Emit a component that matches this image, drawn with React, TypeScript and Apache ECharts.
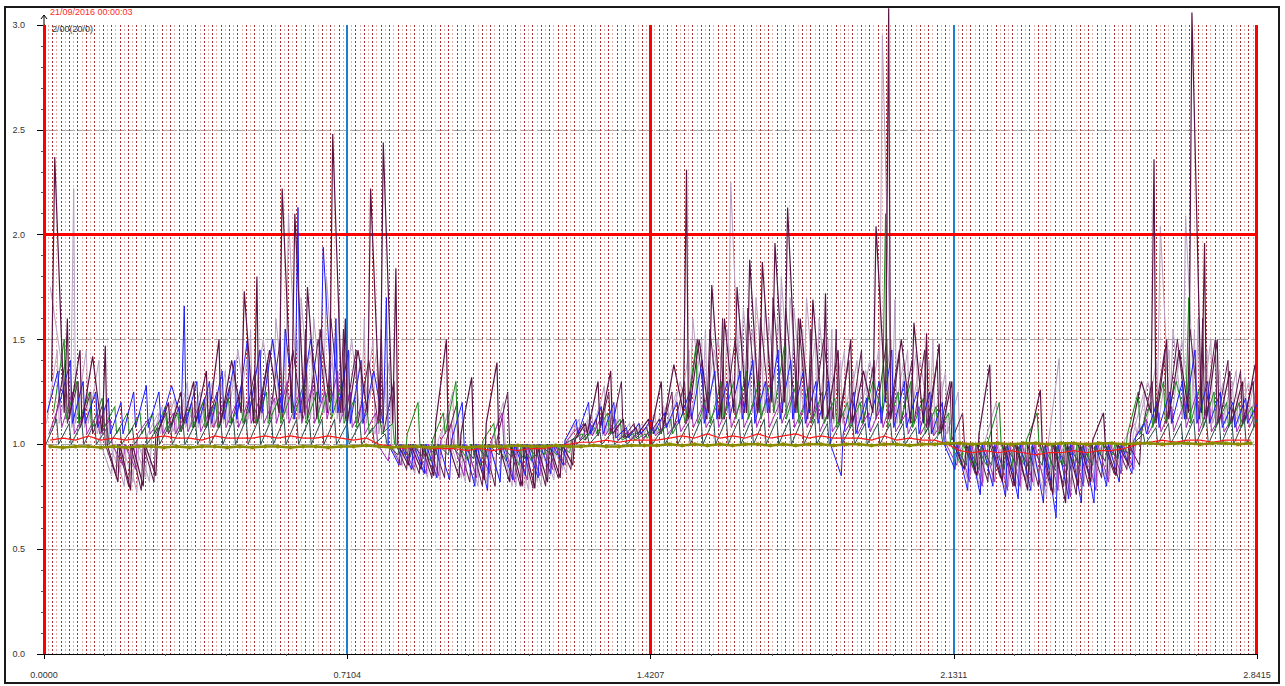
import React, { useEffect, useRef } from "react";
import * as echarts from "echarts";

// ---- axis values ----
const X_MAX = 2.8415;
const X_INTERVAL = 0.710375;
const xTickLabels = ["0.0000", "0.7104", "1.4207", "2.1311", "2.8415"];
const yTickLabels = ["0.0", "0.5", "1.0", "1.5", "2.0", "2.5", "3.0"];
const redXMarks = [0, 1.4207, 2.8415];
const blueXMarks = [0.7104, 2.1311];
const redYMarks = [2.0];
const DOT_GRID_COUNT = 288;

// ---- series: each tooth = [start, end] ----
const N_TEETH = 96;
const plum = [
  1.3,2.37, 1.15,1.6, 1.12,1.45, 1.1,1.42, 1.05,1.47, 1,0.82, 1,0.78, 1,0.8,
  1,0.85, 1.05,1.2, 1.08,1.25, 1.1,1.3, 1.1,1.35, 1.1,1.5, 1.1,1.4, 1.15,1.73,
  1.1,1.8, 1.12,1.45, 1.15,2.22, 1.15,2.1, 1.15,1.75, 1.12,1.55, 1.2,2.48, 1.15,1.6,
  1.1,1.45, 1.15,2.22, 1.1,2.44, 1.1,1.84, 1,0.9, 1,0.88, 1,0.85, 1.1,1.5,
  1,0.84, 1.05,1.32, 1,0.83, 1.1,1.39, 1,0.82, 1,0.8, 1,0.79, 1,0.82,
  1,0.84, 1,0.9, 1.02,1.1, 1.05,1.3, 1.08,1.35, 1.05,1.12, 1.03,1.08, 1.05,1.12,
  1.05,1.3, 1.08,1.38, 1.15,2.31, 1.12,1.5, 1.15,1.76, 1.12,1.6, 1.15,1.75, 1.15,1.88,
  1.15,1.87, 1.2,1.96, 1.2,2.13, 1.15,1.6, 1.15,1.69, 1.12,1.72, 1.12,1.45, 1.1,1.5,
  1.1,1.35, 1.15,2.04, 1.2,3.08, 1.12,1.5, 1.1,1.58, 1.1,1.53, 1.08,1.48, 1.05,1.3,
  1,0.88, 1,0.85, 1.05,1.38, 1,0.82, 1,0.8, 1,0.78, 1.02,1.26, 1,0.76,
  1,0.72, 1,0.8, 1,0.82, 1.02,1.15, 1,0.85, 1,0.9, 1.05,1.3, 1.15,2.36,
  1.1,1.5, 1.12,1.45, 1.15,3.06, 1.15,1.96, 1.12,1.5, 1.1,1.35, 1.1,1.3, 1.1,1.38,
];
const plum2 = [
  1.1,1.4, 1.1,1.3, 1.08,1.25, 1.05,1.2, 1,0.85, 1,0.8, 1,0.78, 1,0.82,
  1.05,1.15, 1.05,1.18, 1.06,1.2, 1.08,1.22, 1.08,1.25, 1.08,1.28, 1.1,1.3, 1.1,1.35,
  1.1,1.4, 1.12,1.5, 1.12,1.45, 1.12,1.55, 1.12,1.5, 1.15,1.6, 1.15,1.55, 1.12,1.45,
  1.1,1.4, 1.1,1.55, 1.05,1.3, 1,0.88, 1,0.86, 1,0.84, 1,0.84, 1.02,1.2,
  1,0.82, 1,0.8, 1,0.8, 1.02,1.25, 1,0.8, 1,0.79, 1,0.8, 1,0.84,
  1,0.88, 1.02,1.1, 1.02,1.12, 1.04,1.25, 1.05,1.3, 1.03,1.1, 1.03,1.08, 1.04,1.12,
  1.05,1.25, 1.08,1.3, 1.1,1.5, 1.12,1.55, 1.12,1.6, 1.12,1.5, 1.15,1.65, 1.15,1.6,
  1.15,1.7, 1.15,1.65, 1.15,1.6, 1.12,1.55, 1.12,1.5, 1.12,1.55, 1.1,1.4, 1.1,1.45,
  1.1,1.4, 1.12,1.5, 1.12,1.45, 1.1,1.4, 1.1,1.45, 1.08,1.4, 1.05,1.3, 1.02,1.15,
  1,0.86, 1,0.82, 1,0.84, 1,0.8, 1,0.82, 1,0.8, 1,0.78, 1,0.8,
  1,0.76, 1,0.8, 1,0.84, 1,0.86, 1,0.88, 1,0.9, 1.05,1.3, 1.1,1.45,
  1.1,1.5, 1.12,1.55, 1.12,1.6, 1.12,1.5, 1.1,1.4, 1.1,1.35, 1.1,1.3, 1.1,1.35,
];
const mauve = [
  1.75,1.4, 1.15,2.22, 1.1,1.45, 1.1,1.4, 1,0.85, 1,0.8, 1,0.77, 1,0.82,
  1.02,1.18, 1.05,1.22, 1.05,1.3, 1.08,1.25, 1.1,1.3, 1.08,1.35, 1.1,1.45, 1.1,1.55,
  1.12,1.5, 1.12,1.6, 1.15,2.1, 1.12,1.7, 1.12,1.6, 1.15,1.8, 1.15,1.7, 1.12,1.5,
  1.1,1.6, 1.1,1.45, 1.05,1.4, 1,0.9, 1,0.86, 1,0.84, 1,0.83, 1.05,1.25,
  1,0.82, 1,0.8, 1,0.83, 1.02,1.2, 1,0.8, 1,0.78, 1,0.8, 1,0.83,
  1,0.86, 1.02,1.12, 1.02,1.15, 1.05,1.28, 1.05,1.2, 1.03,1.1, 1.03,1.1, 1.05,1.15,
  1.05,1.2, 1.08,1.3, 1.1,1.6, 1.12,1.55, 1.12,1.5, 1.15,2.25, 1.15,1.65, 1.15,1.7,
  1.15,1.6, 1.15,1.8, 1.15,1.65, 1.15,1.7, 1.12,1.6, 1.12,1.55, 1.1,1.45, 1.1,1.4,
  1.1,1.4, 1.15,2.95, 1.12,1.69, 1.1,1.45, 1.1,1.4, 1.08,1.5, 1.05,1.35, 1.05,1.25,
  1,0.86, 1,0.82, 1.02,1.2, 1,0.8, 1,0.78, 1,0.8, 1,0.75, 1.02,1.41,
  1,0.8, 1,0.82, 1,0.8, 1,0.85, 1,0.88, 1.02,1.1, 1.05,1.3, 1.12,2.04,
  1.12,1.55, 1.12,2.09, 1.12,1.6, 1.1,1.5, 1.1,1.3, 1.1,1.35, 1.1,1.3, 1.12,1.43,
];
const mauve2 = [
  1.1,1.45, 1.1,1.35, 1.08,1.3, 1.08,1.25, 1.05,1.2, 1,0.86, 1,0.82, 1,0.84,
  1.05,1.15, 1.05,1.2, 1.06,1.22, 1.08,1.2, 1.08,1.25, 1.08,1.3, 1.1,1.35, 1.1,1.4,
  1.12,1.45, 1.12,1.5, 1.12,1.55, 1.12,1.5, 1.12,1.45, 1.15,1.55, 1.15,1.5, 1.12,1.45,
  1.1,1.4, 1.1,1.5, 1.05,1.3, 1,0.92, 1,0.88, 1,0.86, 1,0.84, 1.02,1.15,
  1,0.84, 1,0.82, 1,0.82, 1,0.84, 1,0.8, 1,0.79, 1,0.82, 1,0.85,
  1,0.88, 1.02,1.1, 1.03,1.12, 1.04,1.2, 1.04,1.15, 1.03,1.08, 1.03,1.1, 1.04,1.12,
  1.05,1.18, 1.08,1.25, 1.1,1.45, 1.12,1.5, 1.12,1.45, 1.12,1.55, 1.15,1.6, 1.15,1.55,
  1.15,1.65, 1.15,1.6, 1.15,1.7, 1.12,1.55, 1.12,1.5, 1.12,1.5, 1.1,1.4, 1.1,1.35,
  1.1,1.35, 1.12,1.45, 1.12,1.5, 1.1,1.4, 1.1,1.45, 1.08,1.4, 1.05,1.3, 1.02,1.15,
  1,0.84, 1,0.8, 1,0.82, 1,0.78, 1,0.8, 1,0.82, 1,0.78, 1,0.76,
  1,0.78, 1,0.8, 1,0.82, 1,0.84, 1,0.86, 1,0.9, 1.05,1.25, 1.08,1.4,
  1.1,1.45, 1.1,1.5, 1.12,1.55, 1.1,1.45, 1.1,1.35, 1.1,1.3, 1.1,1.32, 1.12,1.38,
];
const blue = [
  1.15,1.35, 1.2,1.4, 1.1,1.3, 1.1,1.25, 1.08,1.22, 1.05,1.2, 1.05,1.25, 1.08,1.28,
  1.08,1.25, 1.1,1.28, 1.12,1.66, 1.1,1.3, 1.1,1.3, 1.1,1.35, 1.12,1.4, 1.12,1.5,
  1.15,1.45, 1.15,1.5, 1.15,1.55, 1.12,2.13, 1.15,1.5, 1.2,1.94, 1.15,1.6, 1.15,1.45,
  1.1,1.4, 1.1,1.35, 1.1,1.7, 1,0.9, 1,0.88, 1,0.86, 1,0.84, 1,0.83,
  1.02,1.2, 1,0.8, 1,0.78, 1,0.82, 1,0.83, 1,0.85, 1,0.84, 1,0.86,
  1,0.9, 1.02,1.12, 1.05,1.2, 1.05,1.18, 1.05,1.2, 1.03,1.08, 1.03,1.1, 1.05,1.12,
  1.05,1.15, 1.08,1.2, 1.1,1.25, 1.12,1.4, 1.1,1.35, 1.12,1.3, 1.12,1.35, 1.12,1.4,
  1.1,1.3, 1.15,1.45, 1.12,1.4, 1.12,1.35, 1.1,1.3, 1.1,1.3, 1,0.85, 1.05,1.25,
  1.05,1.22, 1.08,1.3, 1.1,1.45, 1.08,1.3, 1.08,1.25, 1.05,1.25, 1.05,1.2, 1,0.88,
  1,0.78, 1,0.76, 1,0.8, 1,0.75, 1,0.74, 1,0.78, 1,0.72, 1,0.65,
  1,0.74, 1,0.72, 1,0.72, 1,0.8, 1,0.82, 1,0.86, 1.02,1.1, 1.05,1.2,
  1.08,1.25, 1.1,1.3, 1.12,1.45, 1.1,1.3, 1.1,1.25, 1.08,1.2, 1.08,1.22, 1.1,1.2,
];
const green = [
  1.15,1.5, 1.12,1.3, 1.1,1.25, 1.08,1.22, 1.08,1.18, 1.05,1.15, 1.05,1.15, 1.05,1.15,
  1.05,1.18, 1.06,1.15, 1.06,1.18, 1.08,1.2, 1.08,1.2, 1.08,1.22, 1.1,1.2, 1.1,1.22,
  1.1,1.25, 1.1,1.22, 1.1,1.25, 1.12,1.3, 1.1,1.25, 1.1,1.28, 1.12,1.3, 1.1,1.22,
  1.08,1.15, 1.05,1.12, 1.05,1.1, 1,0.95, 1.05,1.2, 1,0.92, 1.02,1.15, 1.05,1.3,
  1,0.92, 1,0.9, 1.02,1.1, 1,0.92, 1,0.9, 1,0.92, 1,0.95, 1,0.95,
  1,0.96, 1.02,1.05, 1.02,1.08, 1.05,1.15, 1.05,1.12, 1.02,1.05, 1.02,1.05, 1.03,1.08,
  1.05,1.12, 1.05,1.15, 1.1,1.47, 1.1,1.25, 1.1,1.3, 1.12,1.3, 1.12,1.35, 1.12,1.3,
  1.12,1.32, 1.15,1.47, 1.12,1.3, 1.1,1.28, 1.1,1.25, 1.1,1.22, 1.08,1.2, 1.08,1.2,
  1.1,1.3, 1.15,2.1, 1.08,1.25, 1.1,1.3, 1.08,1.22, 1.05,1.18, 1.05,1.15, 1,0.9,
  1,0.88, 1,0.9, 1.02,1.2, 1,0.88, 1,0.9, 1.02,1.15, 1,0.88, 1,0.9,
  1,0.9, 1,0.92, 1,0.95, 1,0.95, 1,0.96, 1.05,1.25, 1.05,1.2, 1.08,1.3,
  1.1,1.3, 1.12,1.7, 1.1,1.3, 1.08,1.25, 1.08,1.2, 1.08,1.2, 1.08,1.18, 1.08,1.2,
];
const magenta = [
  1.05,1.2, 1.08,1.25, 1.05,1.15, 1.05,1.15, 1.05,1.12, 1,0.9, 1,0.88, 1.05,1.12,
  1.05,1.12, 1.05,1.15, 1.05,1.15, 1.06,1.18, 1.06,1.18, 1.08,1.2, 1.08,1.2, 1.08,1.22,
  1.1,1.25, 1.1,1.22, 1.1,1.3, 1.1,1.25, 1.1,1.28, 1.1,1.25, 1.12,1.35, 1.1,1.25,
  1.08,1.2, 1.05,1.15, 1,0.92, 1,0.9, 1,0.88, 1,0.86, 1,0.85, 1.02,1.1,
  1,0.85, 1,0.84, 1,0.86, 1.02,1.15, 1,0.82, 1,0.83, 1,0.85, 1,0.88,
  1,0.9, 1.02,1.08, 1.02,1.1, 1.04,1.15, 1.04,1.12, 1.02,1.06, 1.02,1.06, 1.03,1.08,
  1.04,1.1, 1.05,1.12, 1.06,1.15, 1.08,1.2, 1.08,1.18, 1.08,1.2, 1.08,1.22, 1.08,1.2,
  1.08,1.22, 1.08,1.2, 1.1,1.25, 1.08,1.2, 1.08,1.2, 1.06,1.18, 1.06,1.15, 1.06,1.15,
  1.05,1.15, 1.06,1.18, 1.08,1.25, 1.06,1.15, 1.05,1.18, 1.05,1.15, 1.04,1.12, 1,0.9,
  1,0.82, 1,0.8, 1,0.82, 1,0.78, 1,0.8, 1,0.82, 1,0.8, 1,0.78,
  1,0.75, 1,0.8, 1,0.78, 1,0.82, 1,0.86, 1,0.88, 1.04,1.12, 1.05,1.15,
  1.06,1.18, 1.06,1.2, 1.08,1.25, 1.06,1.2, 1.06,1.15, 1.06,1.15, 1.06,1.18, 1.08,1.2,
];
const teal = [
  1,1.12, 1,1.1, 1,1.1, 1,1.1, 1,1.08, 1,1.08, 1,1.08, 1,1.08,
  1,1.08, 1,1.1, 1,1.1, 1,1.1, 1,1.1, 1,1.1, 1,1.12, 1,1.12,
  1,1.12, 1,1.12, 1,1.12, 1,1.12, 1,1.12, 1,1.12, 1,1.12, 1,1.1,
  1,1.1, 1,1.08, 1,1.05, 1,0.95, 1,0.94, 1,0.94, 1,0.95, 1,0.95,
  1,0.94, 1,0.93, 1,0.94, 1,0.95, 1,0.94, 1,0.93, 1,0.94, 1,0.96,
  1,0.97, 1,1.03, 1,1.05, 1,1.06, 1,1.06, 1,1.05, 1,1.06, 1,1.07,
  1,1.08, 1,1.1, 1,1.1, 1,1.12, 1,1.12, 1,1.12, 1,1.12, 1,1.12,
  1,1.12, 1,1.12, 1,1.12, 1,1.12, 1,1.12, 1,1.1, 1,1.1, 1,1.1,
  1,1.1, 1,1.1, 1,1.1, 1,1.1, 1,1.08, 1,1.08, 1,1.06, 1,1.0,
  0.99,0.9, 0.99,0.88, 0.99,0.9, 0.99,0.88, 0.99,0.9, 0.99,0.88, 0.99,0.9, 0.99,0.88,
  0.99,0.88, 0.99,0.9, 0.99,0.9, 0.99,0.92, 0.99,0.93, 0.99,0.95, 1,1.05, 1,1.08,
  1,1.1, 1,1.1, 1,1.12, 1,1.12, 1,1.12, 1,1.12, 1,1.12, 1,1.12,
];
// ---- series: one value per step ----
const redLine = [
  1.02,1.03,1.02,1.04,1.02,1.03,1.02,1.03,1.03,1.04,1.03,1.03,1.02,1.04,1.03,1.03,
  1.03,1.04,1.03,1.04,1.03,1.03,1.04,1.03,1.02,1.03,1.0,0.99,0.98,0.99,0.98,0.98,
  0.98,0.97,0.98,0.97,0.98,0.97,0.98,0.98,0.99,1.0,1.01,1.01,1.02,1.01,1.02,1.02,
  1.02,1.03,1.04,1.03,1.05,1.03,1.04,1.03,1.05,1.03,1.04,1.05,1.03,1.04,1.03,1.03,
  1.03,1.02,1.04,1.02,1.03,1.02,1.02,1.0,0.97,0.96,0.97,0.96,0.97,0.96,0.95,0.96,
  0.96,0.97,0.96,0.97,0.97,0.98,1.0,1.01,1.02,1.01,1.02,1.02,1.01,1.02,1.02,1.02,
];
const oliveLine = [
  0.99,0.985,0.99,0.99,0.985,0.99,0.985,0.99,0.99,0.985,0.99,0.985,0.99,0.99,0.985,0.99,
  0.985,0.99,0.99,0.985,0.99,0.99,0.985,0.99,0.99,0.995,0.99,0.985,0.99,0.99,0.985,0.99,
  0.99,0.985,0.99,0.99,0.99,0.995,0.99,0.99,0.995,0.99,0.99,0.995,0.99,0.99,0.995,0.995,
  0.995,1.0,0.995,1.0,0.995,1.0,0.995,1.0,1.0,0.995,1.0,0.995,1.0,1.0,0.995,1.0,
  1.0,0.995,1.0,1.0,0.995,1.0,1.0,1.005,1.005,1.0,1.005,1.005,1.0,1.005,1.005,1.0,
  1.005,1.005,1.0,1.005,1.005,1.0,1.005,1.005,1.0,1.005,1.005,1.0,1.005,1.005,1.0,1.005,
];

const TOOTH = X_MAX / N_TEETH;

// a tall tooth rises steeply late in its step (as the spikes in the picture do)
function sawPoints(vals: number[], phase: number) {
  const pts: number[][] = [];
  for (let i = 0; i < vals.length / 2; i++) {
    const x0 = (i + phase) * TOOTH;
    const s = vals[2 * i];
    const e = vals[2 * i + 1];
    pts.push([e - s > 0.4 ? x0 + TOOTH * 0.6 : x0, s]);
    pts.push([x0 + TOOTH * 0.85, e]);
  }
  return pts;
}
function stepPoints(vals: number[]) {
  return vals.map((v, i) => [(i + 0.5) * TOOTH, v]);
}

const FONT = 'Arial, "Liberation Sans", sans-serif';

export default function App() {
  const ref = useRef<HTMLDivElement>(null);
  useEffect(() => {
    document.body.style.margin = "0";
    if (!ref.current) return;
    const chart = echarts.init(ref.current, undefined, { renderer: "svg" });
    const saw = (name: string, vals: number[], phase: number, color: string, z: number, width = 1, clip = true) => ({
      name,
      type: "line",
      xAxisIndex: 0,
      yAxisIndex: 0,
      data: sawPoints(vals, phase),
      showSymbol: false,
      symbol: "none",
      clip,
      z,
      lineStyle: { color, width },
      emphasis: { disabled: true },
    });
    const markStyle = (color: string, width: number) => ({ color, width, type: "solid" as const });
    chart.setOption({
      animation: false,
      backgroundColor: "#ffffff",
      grid: { left: 44, right: 28, top: 25, bottom: 32, containLabel: false },
      xAxis: [
        {
          type: "value",
          min: 0,
          max: X_MAX,
          interval: X_INTERVAL,
          position: "bottom",
          axisLine: { show: true, onZero: false, lineStyle: { color: "#000", width: 1 } },
          axisTick: { show: true, length: 5, lineStyle: { color: "#000" } },
          minorTick: { show: true, splitNumber: 5, length: 2, lineStyle: { color: "#555" } },
          axisLabel: {
            margin: 16,
            fontSize: 9,
            fontFamily: FONT,
            color: "#333",
            formatter: (v: number) => xTickLabels[Math.round(v / X_INTERVAL)] ?? "",
          },
          splitLine: { show: false },
        },
        {
          type: "value",
          min: 0,
          max: DOT_GRID_COUNT,
          interval: 1,
          position: "top",
          axisLine: { show: false },
          axisTick: { show: false },
          axisLabel: { show: false },
          splitLine: {
            show: true,
            lineStyle: { color: ["#aa3030", "#deb0b0"], width: 1, type: [2, 2] },
          },
        },
      ],
      yAxis: {
        type: "value",
        min: 0,
        max: 3,
        interval: 0.5,
        axisLine: { show: true, lineStyle: { color: "#000", width: 1 } },
        axisTick: { show: true, length: 7, lineStyle: { color: "#000" } },
        minorTick: { show: true, splitNumber: 5, length: 3, lineStyle: { color: "#555" } },
        axisLabel: {
          margin: 19,
          fontSize: 9,
          fontFamily: FONT,
          color: "#333",
          formatter: (v: number) => yTickLabels[Math.round(v / 0.5)] ?? "",
        },
        splitLine: {
          show: true,
          showMinLine: false,
          showMaxLine: false,
          lineStyle: { color: "#a8a8a8", width: 1, type: [14, 3] },
        },
      },
      series: [
        saw("mauve", mauve, 0.5, "#b9a1c2", 2),
        saw("mauve2", mauve2, 0.2, "#c0a8c8", 2),
        saw("plum2", plum2, 0.85, "#5e1a4c", 3),
        saw("magenta", magenta, 0.4, "#a12db5", 4),
        saw("green", green, 0.75, "#1b8a1b", 5),
        saw("blue", blue, 0.25, "#1d1dff", 6),
        saw("plum", plum, 0, "#5a1445", 6, 1.2, false),
        saw("teal", teal, 0.15, "#2f4f4f", 7),
        {
          name: "red",
          type: "line",
          data: stepPoints(redLine),
          showSymbol: false,
          symbol: "none",
          z: 8,
          lineStyle: { color: "#ff1a1a", width: 1.2 },
        },
        {
          name: "olive",
          type: "line",
          data: stepPoints(oliveLine),
          showSymbol: true,
          symbol: "circle",
          symbolSize: 4,
          z: 9,
          itemStyle: { color: "#8c8c00" },
          lineStyle: { color: "#8c8c00", width: 2.5 },
          markLine: {
            silent: true,
            symbol: ["none", "none"],
            label: { show: false },
            emphasis: { disabled: true },
            data: [
              ...redXMarks.map((v) => ({ xAxis: v, lineStyle: markStyle("#ff0000", 3) })),
              ...blueXMarks.map((v) => ({ xAxis: v, lineStyle: markStyle("#1f7ecf", 2) })),
              ...redYMarks.map((v) => ({ yAxis: v, lineStyle: markStyle("#ff0000", 3) })),
            ],
          },
        },
      ],
      graphic: [
        {
          type: "rect",
          silent: true,
          z: 100,
          shape: { x: 5, y: 7, width: 1274, height: 676 },
          style: { fill: "none", stroke: "#1a1a1a", lineWidth: 2 },
        },
        {
          type: "line",
          silent: true,
          z: 100,
          shape: { x1: 44, y1: 25, x2: 44, y2: 15 },
          style: { stroke: "#000", lineWidth: 1 },
        },
        {
          type: "polyline",
          silent: true,
          z: 100,
          shape: { points: [[41, 19], [44, 15], [47, 19]] },
          style: { stroke: "#000", fill: "none", lineWidth: 1 },
        },
        {
          type: "text",
          silent: true,
          z: 100,
          x: 50,
          y: 7,
          style: { text: "21/09/2016 00:00:03", fill: "#ff2a2a", font: `9px ${FONT}` },
        },
        {
          type: "text",
          silent: true,
          z: 100,
          x: 52,
          y: 24,
          style: { text: "2/00(20/0)", fill: "#333", font: `9px ${FONT}` },
        },
      ],
    });
    return () => chart.dispose();
  }, []);
  return <div ref={ref} style={{ width: 1285, height: 686 }} />;
}
